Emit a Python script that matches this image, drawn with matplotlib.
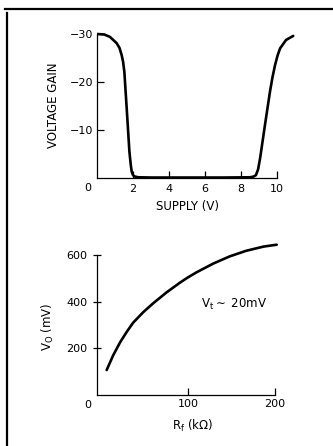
import matplotlib
matplotlib.use('Agg')
import matplotlib.pyplot as plt
from matplotlib.lines import Line2D

# top panel: voltage gain vs supply
supply_v = [0, 0.4, 0.72, 1.09, 1.25, 1.37, 1.45, 1.52, 1.65, 1.8, 1.88, 1.93, 2.0, 2.1,
            2.3, 3, 5, 7, 8.5, 8.7, 8.83, 8.95, 9.06, 9.33, 9.61, 9.75, 9.89, 10.03,
            10.17, 10.5, 10.9]
gain = [30, 29.9, 29.4, 28.1, 27.1, 25.6, 24.2, 22.1, 14.5, 5.5, 2.6, 1.3, 0.6, 0.3,
        0.15, 0.1, 0.1, 0.1, 0.15, 0.3, 0.6, 1.8, 4.1, 11, 18, 21, 23.5, 25.5,
        27, 28.75, 29.6]
gain_ticks = [10, 20, 30]
gain_labels = ['\u221210', '\u221220', '\u221230']
supply_ticks = [2, 4, 6, 8, 10]

# bottom panel: output voltage vs feedback resistor
rf_kohm = [6.5, 14, 22, 29.5, 37, 48.6, 60, 75.5, 91, 100, 110, 129, 148, 167, 187, 202]
vo_mv = [107, 170, 226, 270, 310, 355, 393, 440, 482, 504, 526, 563, 594, 618, 636, 644]
vo_ticks = [200, 400, 600]
rf_ticks = [100, 200]

W, H = 333, 446
fig = plt.figure(figsize=(W / 100, H / 100), dpi=100)
plt.rcParams['font.family'] = 'DejaVu Sans'

# frame lines of the figure box
fig.add_artist(Line2D([5 / W, 1], [1 - 8.5 / H, 1 - 8.5 / H], color='black', lw=1.6))
fig.add_artist(Line2D([6.5 / W, 6.5 / W], [1 - 13 / H, 0], color='black', lw=1.6))

lw_axis = 0.9
fs = 8

# ---- top plot
ax1 = fig.add_axes([97 / W, (H - 178) / H, 198 / W, 148.8 / H])
ax1.plot(supply_v, gain, color='black', lw=1.9, solid_capstyle='round', solid_joinstyle='round')
ax1.set_xlim(0, 11)
ax1.set_ylim(0, 31)
for s in ['top', 'right']:
    ax1.spines[s].set_visible(False)
ax1.spines['left'].set_bounds(0, 30)
ax1.spines['bottom'].set_bounds(0, 10)
for s in ['left', 'bottom']:
    ax1.spines[s].set_linewidth(lw_axis)
ax1.set_xticks(supply_ticks)
ax1.set_yticks(gain_ticks)
ax1.set_yticklabels(gain_labels)
ax1.tick_params(axis='x', direction='in', length=5, width=lw_axis, pad=4.5, labelsize=fs)
ax1.tick_params(axis='y', direction='in', length=5, width=lw_axis, pad=2.5, labelsize=fs)
ax1.annotate('0', xy=(0, 0), xytext=(-6.5, -7.5), textcoords='offset points',
             ha='center', va='center', fontsize=fs)
ax1.set_xlabel('SUPPLY (V)', fontsize=8.5)
ax1.xaxis.set_label_coords(0.457, -0.145)
ax1.set_ylabel('VOLTAGE GAIN', fontsize=8.5)
ax1.yaxis.set_label_coords(-0.185, 0.49)

# ---- bottom plot
ax2 = fig.add_axes([96.65 / W, (H - 395) / H, 187 / W, 158.7 / H])
ax2.plot(rf_kohm, vo_mv, color='black', lw=1.9, solid_capstyle='round', solid_joinstyle='round')
ax2.set_xlim(-5, 210)
ax2.set_ylim(0, 680)
for s in ['top', 'right']:
    ax2.spines[s].set_visible(False)
ax2.spines['left'].set_bounds(0, 600)
ax2.spines['bottom'].set_bounds(-5, 200)
for s in ['left', 'bottom']:
    ax2.spines[s].set_linewidth(lw_axis)
ax2.set_xticks(rf_ticks)
ax2.set_yticks(vo_ticks)
ax2.tick_params(axis='x', direction='in', length=5, width=lw_axis, pad=3, labelsize=fs)
ax2.tick_params(axis='y', direction='inout', length=6, width=lw_axis, pad=3.5, labelsize=fs)
ax2.annotate('0', xy=(-5, 0), xytext=(-6.5, -7), textcoords='offset points',
             ha='center', va='center', fontsize=fs)
ax2.set_xlabel(r'R$_\mathregular{f}$ (k$\Omega$)', fontsize=8.5)
ax2.xaxis.set_label_coords(0.512, -0.145)
ax2.set_ylabel(r'V$_\mathregular{O}$ (mV)', fontsize=8.5)
ax2.yaxis.set_label_coords(-0.215, 0.43)
ax2.text(115, 388, r'V$_\mathregular{t}$$\sim$ 20mV', fontsize=8.5, ha='left', va='center')

fig.savefig('out.png', dpi=100)
